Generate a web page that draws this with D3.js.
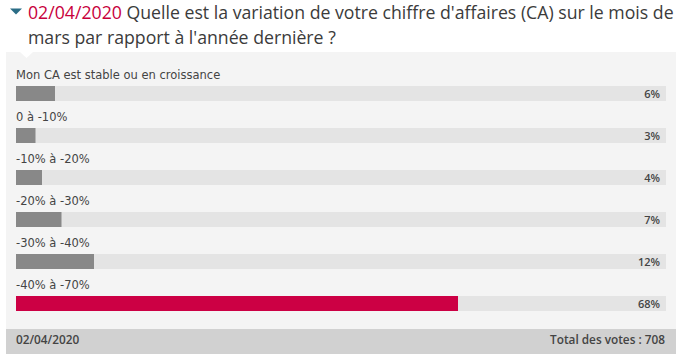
<!DOCTYPE html>
<html>
<head>
<meta charset="utf-8">
<script src="https://cdn.jsdelivr.net/npm/d3@7"></script>
<style>
  body { margin: 0; background: #fff; }
  svg { display: block; }
</style>
</head>
<body>
<script>
// data
const pollDate = '02/04/2020'
const titleLines = ["Quelle est la variation de votre chiffre d'affaires (CA) sur le mois de",
  "mars par rapport à l'année dernière ?"]
const answers = ['Mon CA est stable ou en croissance', '0 à -10%', '-10% à -20%',
  '-20% à -30%', '-30% à -40%', '-40% à -70%']
const percents = [6, 3, 4, 7, 12, 68]
const totalVotes = 708

// sizes
const width = 681
const height = 354
const panel = { left: 6, right: 676, top: 52, bottom: 329 }
const track = { left: 16, right: 666 }
const rowTop = 86
const rowStep = 42
const barH = 15

const svg = d3.select('body').append('svg')
  .attr('width', width)
  .attr('height', height)

// panel + notch
svg.append('rect')
  .attr('x', panel.left).attr('y', panel.top)
  .attr('width', panel.right - panel.left).attr('height', panel.bottom - panel.top)
  .attr('fill', '#f4f4f4')
svg.append('path')
  .attr('d', `M20,${panel.top} L33,${panel.top} L26.5,${panel.top + 6} Z`)
  .attr('fill', '#fff')

// footer
svg.append('rect')
  .attr('x', panel.left).attr('y', panel.bottom)
  .attr('width', panel.right - panel.left).attr('height', height - panel.bottom)
  .attr('fill', '#d1d1d1')

// title
svg.append('path')
  .attr('d', 'M10,8.5 L22,8.5 L16,14.5 Z')
  .attr('fill', '#2b6d86')

const title = svg.append('text')
  .attr('x', 28).attr('y', 19)
  .style('font-family', '"Open Sans", sans-serif')
  .style('font-size', '17.7px')
  .attr('fill', '#3b3b3b')
title.append('tspan').attr('fill', '#c8003c').text(pollDate + ' ')
title.append('tspan').text(titleLines[0])
svg.append('text')
  .attr('x', 28).attr('y', 44)
  .style('font-family', '"Open Sans", sans-serif')
  .style('font-size', '17.7px')
  .attr('fill', '#3b3b3b')
  .text(titleLines[1])

// scales
const x = d3.scaleLinear().domain([0, 100]).range([track.left, track.right])
const y = d3.scaleBand().domain(answers)
  .range([rowTop, rowTop + rowStep * answers.length])
  .paddingInner(0).paddingOuter(0)

const maxPct = d3.max(percents)
const rows = svg.append('g').selectAll('g')
  .data(answers.map((a, i) => ({ label: a, pct: percents[i] })))
  .join('g')
  .attr('transform', d => `translate(0, ${y(d.label)})`)

rows.append('rect')
  .attr('x', x(0)).attr('width', x(100) - x(0))
  .attr('height', barH)
  .attr('fill', '#e4e4e4')

rows.append('rect')
  .attr('x', x(0)).attr('width', d => x(d.pct) - x(0))
  .attr('height', barH)
  .attr('fill', d => d.pct === maxPct ? '#cc0044' : '#888888')

rows.append('text')
  .attr('x', track.left).attr('y', -7)
  .style('font-family', '"DejaVu Sans", sans-serif')
  .style('font-size', '11.5px')
  .attr('fill', '#444')
  .text(d => d.label)

rows.append('text')
  .attr('x', track.right - 6).attr('y', 11.5)
  .attr('text-anchor', 'end')
  .style('font-family', '"Open Sans", sans-serif')
  .style('font-size', '11px')
  .style('font-weight', 600)
  .attr('fill', '#444')
  .text(d => d.pct + '%')

// footer texts
svg.append('text')
  .attr('x', 16).attr('y', 344)
  .style('font-family', '"Open Sans", sans-serif')
  .style('font-size', '11.8px')
  .style('font-weight', 600)
  .attr('fill', '#444')
  .text(pollDate)
svg.append('text')
  .attr('x', 665).attr('y', 344)
  .attr('text-anchor', 'end')
  .style('font-family', '"Open Sans", sans-serif')
  .style('font-size', '11.8px')
  .style('font-weight', 600)
  .attr('fill', '#444')
  .text('Total des votes : ' + totalVotes)
</script>
</body>
</html>
